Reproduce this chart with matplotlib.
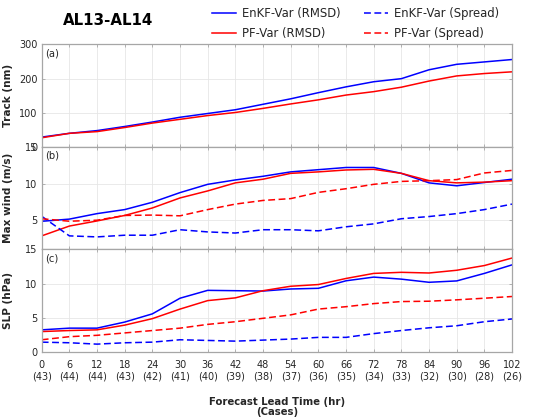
import matplotlib
matplotlib.use("Agg")
import matplotlib.pyplot as plt
from matplotlib.lines import Line2D

lead_time = [0, 6, 12, 18, 24, 30, 36, 42, 48, 54, 60, 66, 72, 78, 84, 90, 96, 102]
cases = [43, 44, 44, 43, 42, 41, 40, 39, 38, 37, 36, 35, 34, 33, 32, 30, 28, 26]

track_enkf_rmsd = [29, 40, 48, 60, 73, 87, 98, 109, 125, 141, 159, 176, 191, 200, 226, 242, 249, 256]
track_pf_rmsd = [27, 40, 45, 57, 70, 81, 92, 101, 113, 126, 138, 152, 162, 175, 193, 208, 215, 220]

wind_enkf_rmsd = [4.85, 5.15, 5.9, 6.45, 7.45, 8.77, 9.9, 10.5, 11.0, 11.6, 11.9, 12.2, 12.2, 11.4, 10.1, 9.7, 10.15, 10.6]
wind_pf_rmsd = [2.86, 4.2, 4.9, 5.65, 6.67, 8.04, 9.0, 10.1, 10.6, 11.4, 11.6, 11.86, 11.95, 11.4, 10.4, 10.1, 10.2, 10.4]
wind_enkf_spread = [5.54, 2.86, 2.72, 2.95, 2.95, 3.7, 3.4, 3.25, 3.7, 3.7, 3.55, 4.1, 4.5, 5.2, 5.5, 5.9, 6.45, 7.2]
wind_pf_spread = [5.2, 4.86, 5.0, 5.65, 5.7, 5.6, 6.45, 7.2, 7.7, 7.95, 8.8, 9.3, 9.9, 10.3, 10.4, 10.55, 11.45, 11.8]

slp_enkf_rmsd = [3.24, 3.49, 3.49, 4.38, 5.58, 7.87, 9.02, 8.97, 8.92, 9.22, 9.32, 10.42, 10.96, 10.66, 10.2, 10.4, 11.5, 12.75]
slp_pf_rmsd = [2.99, 3.14, 3.24, 3.93, 4.88, 6.28, 7.52, 7.92, 8.97, 9.62, 9.87, 10.76, 11.5, 11.66, 11.56, 11.96, 12.65, 13.75]
slp_enkf_spread = [1.44, 1.35, 1.15, 1.35, 1.44, 1.79, 1.69, 1.59, 1.74, 1.89, 2.14, 2.14, 2.69, 3.14, 3.54, 3.84, 4.43, 4.83]
slp_pf_spread = [1.79, 2.24, 2.44, 2.79, 3.14, 3.49, 4.04, 4.43, 4.93, 5.43, 6.28, 6.63, 7.08, 7.38, 7.43, 7.63, 7.87, 8.12]

labels = ["EnKF-Var (RMSD)", "PF-Var (RMSD)", "EnKF-Var (Spread)", "PF-Var (Spread)"]

BLUE = "#0000ff"
RED = "#ff0000"
SPINE = "#a6a6a6"
TXT = "#262626"
LW = 1.1
DASH = (0, (4.5, 2.3))
TICKFS = 7.0

plt.rcParams["font.family"] = ["DejaVu Sans"]

fig = plt.figure(figsize=(5.45, 4.17), dpi=100)
left, width, h = 0.0765, 0.863, 0.2458
bottoms = [0.6475, 0.4017, 0.1559]
axes = [fig.add_axes([left, b, width, h]) for b in bottoms]

panels = [
    ("(a)", "Track (nm)", (0, 300), [0, 100, 200, 300],
     [(track_enkf_rmsd, BLUE, "-"), (track_pf_rmsd, RED, "-")]),
    ("(b)", "Max wind (m/s)", (1, 15), [5, 10, 15],
     [(wind_enkf_rmsd, BLUE, "-"), (wind_pf_rmsd, RED, "-"),
      (wind_enkf_spread, BLUE, DASH), (wind_pf_spread, RED, DASH)]),
    ("(c)", "SLP (hPa)", (0, 15), [0, 5, 10, 15],
     [(slp_enkf_rmsd, BLUE, "-"), (slp_pf_rmsd, RED, "-"),
      (slp_enkf_spread, BLUE, DASH), (slp_pf_spread, RED, DASH)]),
]

for ax, (plab, ylab, ylim, yticks, series) in zip(axes, panels):
    for vals, col, ls in series:
        ax.plot(lead_time, vals, color=col, linestyle=ls, linewidth=LW)
    ax.set_xlim(0, 102)
    ax.set_ylim(*ylim)
    ax.set_yticks(yticks)
    ax.set_xticks(lead_time)
    ax.grid(True, color="#e6e6e6", linewidth=0.6)
    ax.set_axisbelow(True)
    for s in ax.spines.values():
        s.set_color(SPINE)
        s.set_linewidth(0.9)
    ax.tick_params(direction="in", length=2.5, width=0.6, color=SPINE,
                   labelsize=TICKFS, labelcolor=TXT, pad=3, top=True, right=True)
    ax.set_ylabel(ylab, fontsize=7.6, fontweight="bold", color=TXT)
    ax.yaxis.set_label_coords(-0.061, 0.5)
    ax.text(0.007, 0.914, plab, transform=ax.transAxes, fontsize=7.2,
            color=TXT, va="center", ha="left")

for ax in axes[:2]:
    ax.tick_params(labelbottom=False)

axes[2].set_xticklabels([f"{t}\n({c})" for t, c in zip(lead_time, cases)],
                        fontsize=TICKFS, linespacing=1.1)
axes[2].tick_params(axis="x", pad=6)

fig.text(0.508, 0.0245, "Forecast Lead Time (hr)\n(Cases)", ha="center",
         va="center", fontsize=7.3, fontweight="bold", color=TXT, linespacing=1.0)

fig.text(0.199, 0.952, "AL13-AL14", ha="center", va="center",
         fontsize=10.8, fontweight="bold", color="black")

handles = [Line2D([], [], color=BLUE, lw=LW),
           Line2D([], [], color=RED, lw=LW),
           Line2D([], [], color=BLUE, lw=LW, linestyle=DASH),
           Line2D([], [], color=RED, lw=LW, linestyle=DASH)]
fig.legend(handles, labels, ncol=2, frameon=False, fontsize=8.4,
           loc="upper left", bbox_to_anchor=(0.376, 1.0),
           handlelength=2.1, handletextpad=0.5, columnspacing=2.0,
           labelspacing=0.6, borderpad=0.08, labelcolor=TXT)

fig.savefig("out.png", dpi=100)
